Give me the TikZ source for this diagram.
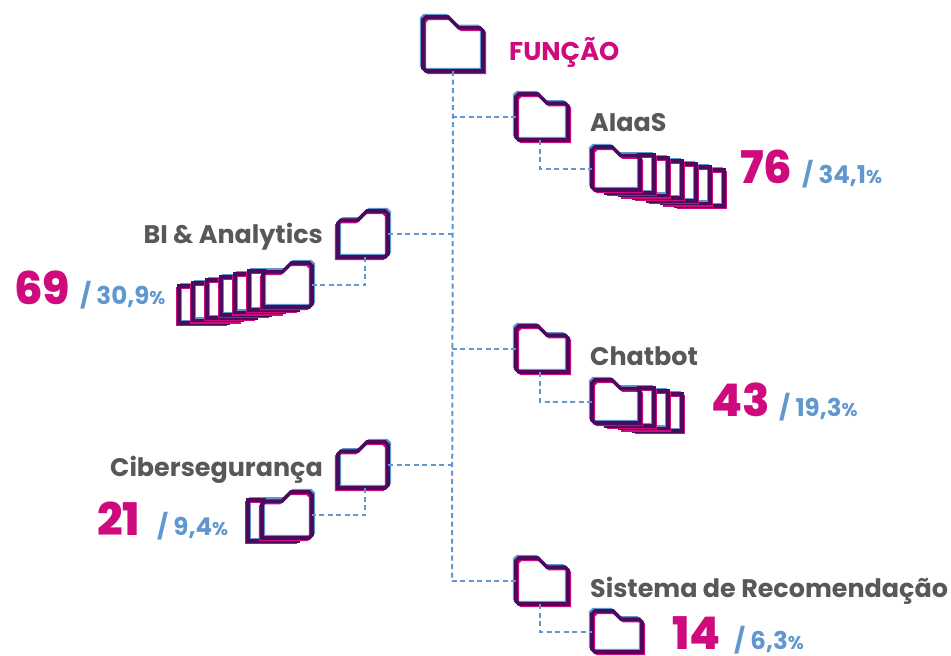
\documentclass[tikz,border=0pt]{standalone}
\usepackage{fontspec}
\setmainfont{Poppins}[BoldFont=Poppins ExtraBold]
\newfontfamily\lblfont{Poppins Bold}
\definecolor{pinkc}{HTML}{CE0A7C}
\definecolor{bluec}{HTML}{5F97CE}
\definecolor{darkc}{HTML}{4A0A5E}
\definecolor{grayc}{HTML}{58585A}
\tikzset{
 folderbox/.style={inner sep=0pt,outer sep=0pt},
 link/.style={draw=bluec,line width=2pt,dash pattern=on 5pt off 3.5pt},
 head/.style={anchor=base west,inner sep=0pt,text=grayc,font=\lblfont\fontsize{25.4}{26}\selectfont},
 big/.style={anchor=base west,inner sep=0pt,text=pinkc,font=\bfseries\fontsize{45}{46}\selectfont},
 share/.style={anchor=base west,inner sep=0pt,text=bluec,font=\lblfont\fontsize{24.5}{25}\selectfont}
}
\begin{document}
\begin{tikzpicture}[x=1pt,y=-1pt]
\useasboundingbox (0,0) rectangle (951,656);
% one folder outline, at the origin of the scope
\def\fdpath#1#2#3#4{(0,3) -- (3,0) -- (#3,0) -- (#3+#4,#4) -- (#1-3,#4) -- (#1,#4+3) -- (#1,#2) -- (3,#2) -- (0,#2-3) -- cycle}
\def\fdlayers#1{
\fill[white] #1;
\draw[bluec,line width=2.4pt,shift={(-2,-2)}] #1;
\draw[pinkc,line width=2.4pt,shift={(2,2)}] #1;
\draw[darkc,line width=3.6pt] #1;
}
% name, left/right edge, top, width, height, direction, back sheets
\def\fd#1#2#3#4#5#6#7{
\foreach \k in {#7,...,1}{
\ifnum#7>0
\begin{scope}[shift={(#2+#6*14*\k,#3)},xscale=#6]
\fdlayers{(0,5+3*\k) rectangle (#4,#5+2.7*\k)}
\end{scope}
\fi
}
\begin{scope}[shift={(#2,#3)},xscale=#6]
\fdlayers{\fdpath{#4}{#5}{0.42*#4}{0.2*#5}}
\end{scope}
\node[folderbox,minimum width=#4pt,minimum height=#5pt] (#1) at (#2+#6*#4/2,#3+#5/2) {};
}
\coordinate (trunkend) at (452,581);
\fd{funcao}{423}{17}{60}{54}{1}{0}
\fd{aiaas}{516}{94}{52}{46}{1}{0}
\fd{chatbot}{516}{326}{52}{46}{1}{0}
\fd{sistema}{516}{558}{52}{46}{1}{0}
\fd{bi}{388}{211}{50}{46}{-1}{0}
\fd{ciber}{388}{442}{50}{46}{-1}{0}
% connectors
\draw[link] (funcao.south) -- (trunkend);
\draw[link] (aiaas.west) -- (aiaas.west -| trunkend);
\draw[link] (chatbot.west) -- (chatbot.west -| trunkend);
\draw[link] (sistema.west) -- (trunkend);
\draw[link] (bi.east) -- (bi.east -| trunkend);
\draw[link] (ciber.east) -- (ciber.east -| trunkend);
\fd{aiaasitem}{592}{147}{48}{43}{1}{6}
\fd{chatbotitem}{592}{380}{48}{43}{1}{3}
\fd{sistemaitem}{592}{611}{50}{41}{1}{0}
\fd{biitem}{312}{263}{49}{44}{-1}{6}
\fd{ciberitem}{312}{492}{50}{46}{-1}{1}
\draw[link] ([xshift=-2pt]aiaas.south) |- (aiaasitem.west);
\draw[link] ([xshift=-2pt]chatbot.south) |- (chatbotitem.west);
\draw[link] ([xshift=-2pt]sistema.south) |- (sistemaitem.west);
\draw[link] ([xshift=2pt]bi.south) |- (biitem.east);
\draw[link] ([xshift=2pt]ciber.south) |- (ciberitem.east);
% labels
\node[anchor=base west,inner sep=0pt,text=pinkc,font=\lblfont\fontsize{25.7}{26}\selectfont] (funcaolbl) at (509,60) {FUNÇÃO};
\node[head] (aiaaslbl) at (590,131) {AIaaS};
\node[head] (chatbotlbl) at (590,365) {Chatbot};
\node[head] (sistemalbl) at (590,597) {Sistema de Recomendação};
\node[head,anchor=base east] (bilbl) at (323,243) {BI \& Analytics};
\node[head,anchor=base east] (ciberlbl) at (323,476) {Cibersegurança};
\node[big] (aiaasn) at (740,183) {76};
\node[share] (aiaasp) at (802,183) {/ 34,1\scalebox{.75}{\%}};
\node[big] (chatbotn) at (711,416) {43};
\node[share] (chatbotp) at (779,416) {/ 19,3\scalebox{.75}{\%}};
\node[big] (sisteman) at (672,649) {14};
\node[share] (sistemap) at (734,649) {/ 6,3\scalebox{.75}{\%}};
\node[big] (bin) at (14,304) {69};
\node[share] (bip) at (80,304) {/ 30,9\scalebox{.75}{\%}};
\node[big] (cibern) at (97,535) {21};
\node[share] (ciberp) at (157,535) {/ 9,4\scalebox{.75}{\%}};
\end{tikzpicture}
\end{document}
